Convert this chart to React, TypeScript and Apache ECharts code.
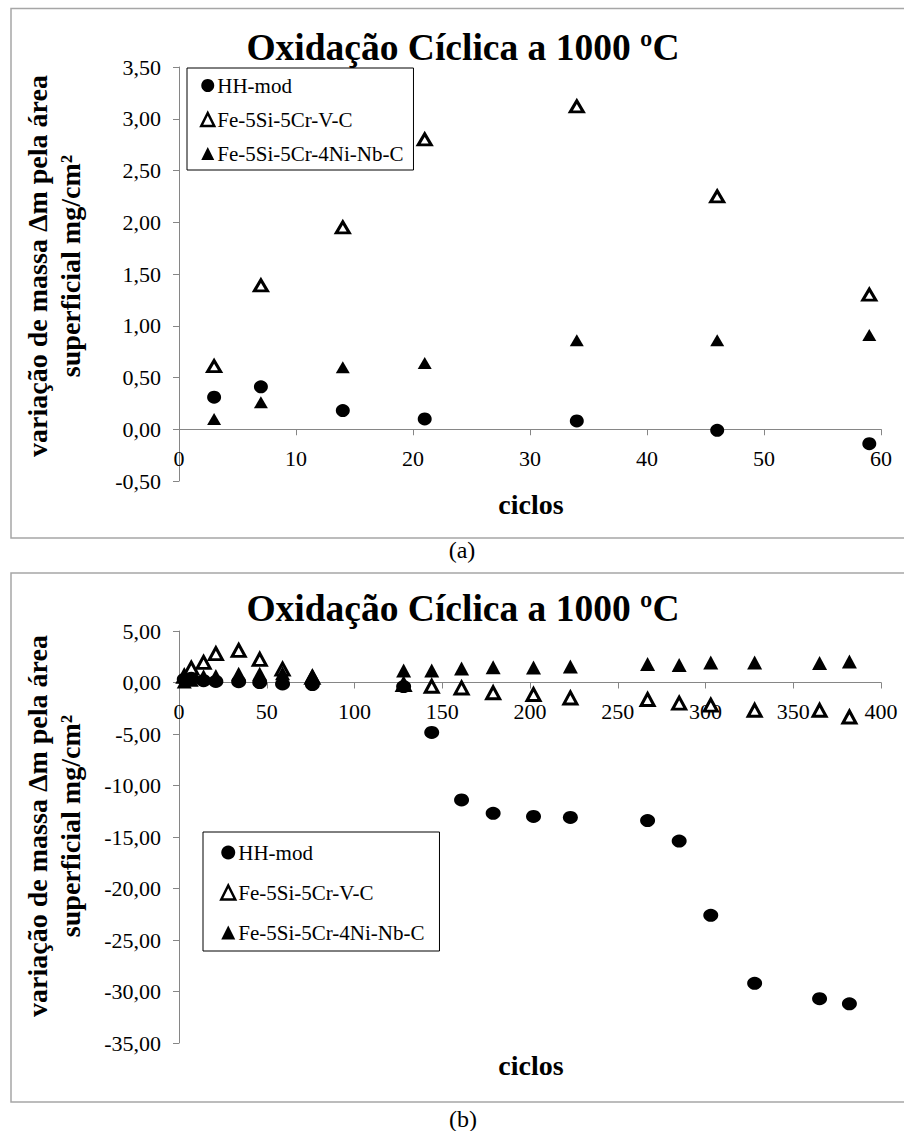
import React, { useEffect, useRef } from "react";
import * as echarts from "echarts";

// ---- data (a) ----
const cyclesA = [3, 7, 14, 21, 34, 46, 59];
const hhA = [0.31, 0.41, 0.18, 0.1, 0.08, -0.01, -0.14];
const vcA = [0.61, 1.39, 1.95, 2.8, 3.12, 2.25, 1.3];
const nbA = [0.1, 0.26, 0.6, 0.64, 0.86, 0.86, 0.91];
const yTicksA = { min: -0.5, max: 3.5, interval: 0.5 };
const xTicksA = { min: 0, max: 60, interval: 10 };

// ---- data (b) ----
const cyclesB = [3, 7, 14, 21, 34, 46, 59, 76, 128, 144, 161, 179, 202, 223, 267, 285, 303, 328, 365, 382];
const hhB = [0.31, 0.41, 0.18, 0.1, 0.08, -0.01, -0.14, -0.2, -0.4, -4.85, -11.4, -12.7, -13.0, -13.1, -13.4, -15.4, -22.6, -29.2, -30.7, -31.2];
const vcB = [0.61, 1.39, 1.95, 2.8, 3.12, 2.25, 1.3, 0.5, -0.2, -0.37, -0.53, -1.0, -1.17, -1.5, -1.65, -2.0, -2.2, -2.7, -2.7, -3.35];
const nbB = [0.1, 0.26, 0.6, 0.64, 0.86, 0.86, 0.91, 0.7, 1.17, 1.17, 1.35, 1.49, 1.45, 1.55, 1.8, 1.7, 1.95, 1.95, 1.9, 2.05];
const yTicksB = { min: -35, max: 5, interval: 5 };
const xTicksB = { min: 0, max: 400, interval: 50 };

const seriesNames = ["HH-mod", "Fe-5Si-5Cr-V-C", "Fe-5Si-5Cr-4Ni-Nb-C"];
const titleText = "Oxidação Cíclica a 1000 ºC";
const yTitle = "variação de massa Δm pela área\nsuperficial mg/cm²";
const xTitle = "ciclos";

const SERIF = "Liberation Serif";
const AXIS_GRAY = "#868686";

const GRID_A = { left: 179, top: 67, width: 702, height: 414 };
const GRID_B = { left: 179, top: 631, width: 702, height: 412 };

function zip(xs: number[], ys: number[]) {
  return xs.map((x, i) => [x, ys[i]]);
}

function commaFmt(v: number) {
  return v.toFixed(2).replace(".", ",").replace("-0,00", "0,00");
}

// offset that moves the bottom x axis up to the y = 0 line
function zeroOffset(t: { min: number; max: number }, h: number) {
  return -((0 - t.min) / (t.max - t.min)) * h;
}

export default function App() {
  const ref = useRef<HTMLDivElement>(null);

  useEffect(() => {
    if (!ref.current) return;
    const chart = echarts.init(ref.current, undefined, { renderer: "svg" });

    const axisLine = { show: true, onZero: false, lineStyle: { color: AXIS_GRAY, width: 1 } };
    const axisTick = { show: true, length: 6, lineStyle: { color: AXIS_GRAY } };
    const labelCommon = { color: "#000", fontFamily: SERIF, fontSize: 22 };

    const mkSeries = (grid: number, xs: number[], hh: number[], vc: number[], nb: number[], big: boolean) => [
      {
        name: seriesNames[1],
        type: "scatter",
        xAxisIndex: grid,
        yAxisIndex: grid,
        symbol: "triangle",
        symbolSize: big ? [13, 12] : [13, 11],
        itemStyle: { color: "#fff", borderColor: "#000", borderWidth: 3, opacity: 1 },
        data: zip(xs, vc),
        z: 2,
      },
      {
        name: seriesNames[0],
        type: "scatter",
        xAxisIndex: grid,
        yAxisIndex: grid,
        symbol: "circle",
        symbolSize: big ? [15, 13] : [14, 13],
        itemStyle: { color: "#000", opacity: 1 },
        data: zip(xs, hh),
        z: 3,
      },
      {
        name: seriesNames[2],
        type: "scatter",
        xAxisIndex: grid,
        yAxisIndex: grid,
        symbol: "triangle",
        symbolSize: big ? [15, 14] : [14, 12],
        itemStyle: { color: "#000", opacity: 1 },
        data: zip(xs, nb),
        z: 4,
      },
    ];

    const legendData = [
      { name: seriesNames[0] },
      { name: seriesNames[1], itemStyle: { borderWidth: 2.5 } },
      { name: seriesNames[2] },
    ];

    const textEl = (x: number, y: number, text: string, size: number, bold: boolean, rotation = 0, lineHeight?: number) => ({
      type: "text",
      x,
      y,
      rotation,
      z: 10,
      style: {
        text,
        fill: "#000",
        fontFamily: SERIF,
        fontSize: size,
        fontWeight: bold ? "bold" : "normal",
        align: "center",
        verticalAlign: "middle",
        textAlign: "center",
        textVerticalAlign: "middle",
        lineHeight,
      },
    });

    const legendCommon = {
      orient: "vertical",
      borderColor: "#000",
      borderWidth: 1,
      backgroundColor: "#fff",
      textStyle: { color: "#000", fontFamily: SERIF, fontSize: 21, padding: [0, 0, 0, -2] },
      selectedMode: false,
      data: legendData,
    };

    const option = {
      animation: false,
      backgroundColor: "#fff",
      textStyle: { fontFamily: SERIF },
      grid: [GRID_A, GRID_B],
      xAxis: [
        {
          type: "value",
          gridIndex: 0,
          ...xTicksA,
          position: "bottom",
          offset: zeroOffset(yTicksA, GRID_A.height),
          axisLine,
          axisTick,
          splitLine: { show: false },
          axisLabel: { ...labelCommon, margin: 18 },
        },
        {
          type: "value",
          gridIndex: 1,
          ...xTicksB,
          position: "bottom",
          offset: zeroOffset(yTicksB, GRID_B.height),
          axisLine,
          axisTick,
          splitLine: { show: false },
          axisLabel: { ...labelCommon, margin: 18 },
        },
      ],
      yAxis: [
        {
          type: "value",
          gridIndex: 0,
          ...yTicksA,
          axisLine,
          axisTick,
          splitLine: { show: false },
          axisLabel: { ...labelCommon, margin: 18, formatter: (v: number) => commaFmt(v) },
        },
        {
          type: "value",
          gridIndex: 1,
          ...yTicksB,
          axisLine,
          axisTick,
          splitLine: { show: false },
          axisLabel: { ...labelCommon, margin: 18, formatter: (v: number) => commaFmt(v) },
        },
      ],
      legend: [
        {
          ...legendCommon,
          left: 187,
          top: 68,
          padding: [7, 10, 6, 13],
          itemGap: 13,
          itemWidth: 13,
          itemHeight: 13,
        },
        {
          ...legendCommon,
          left: 203,
          top: 832,
          padding: [10, 15, 8, 17],
          itemGap: 19,
          itemWidth: 14,
          itemHeight: 14,
        },
      ],
      graphic: [
        {
          type: "rect",
          shape: { x: 11, y: 8.5, width: 900, height: 529.5 },
          style: { fill: "none", stroke: "#a6a6a6", lineWidth: 1.5 },
          z: 0,
        },
        {
          type: "rect",
          shape: { x: 11, y: 573, width: 900, height: 529 },
          style: { fill: "none", stroke: "#a6a6a6", lineWidth: 1.5 },
          z: 0,
        },
        textEl(463, 47, titleText, 37.5, true),
        textEl(463, 608, titleText, 37.5, true),
        textEl(54, 266, yTitle, 28, true, Math.PI / 2, 33),
        textEl(54, 826, yTitle, 28, true, Math.PI / 2, 33),
        textEl(531, 504, xTitle, 28, true),
        textEl(531, 1065, xTitle, 28, true),
        textEl(462, 550, "(a)", 24, false),
        textEl(463, 1119, "(b)", 24, false),
      ],
      series: [
        ...mkSeries(0, cyclesA, hhA, vcA, nbA, false),
        ...mkSeries(1, cyclesB, hhB, vcB, nbB, true),
      ],
    };

    chart.setOption(option as any);
    return () => chart.dispose();
  }, []);

  return (
    <div
      ref={ref}
      style={{ position: "absolute", left: 0, top: 0, width: 904, height: 1131, background: "#fff" }}
    />
  );
}
